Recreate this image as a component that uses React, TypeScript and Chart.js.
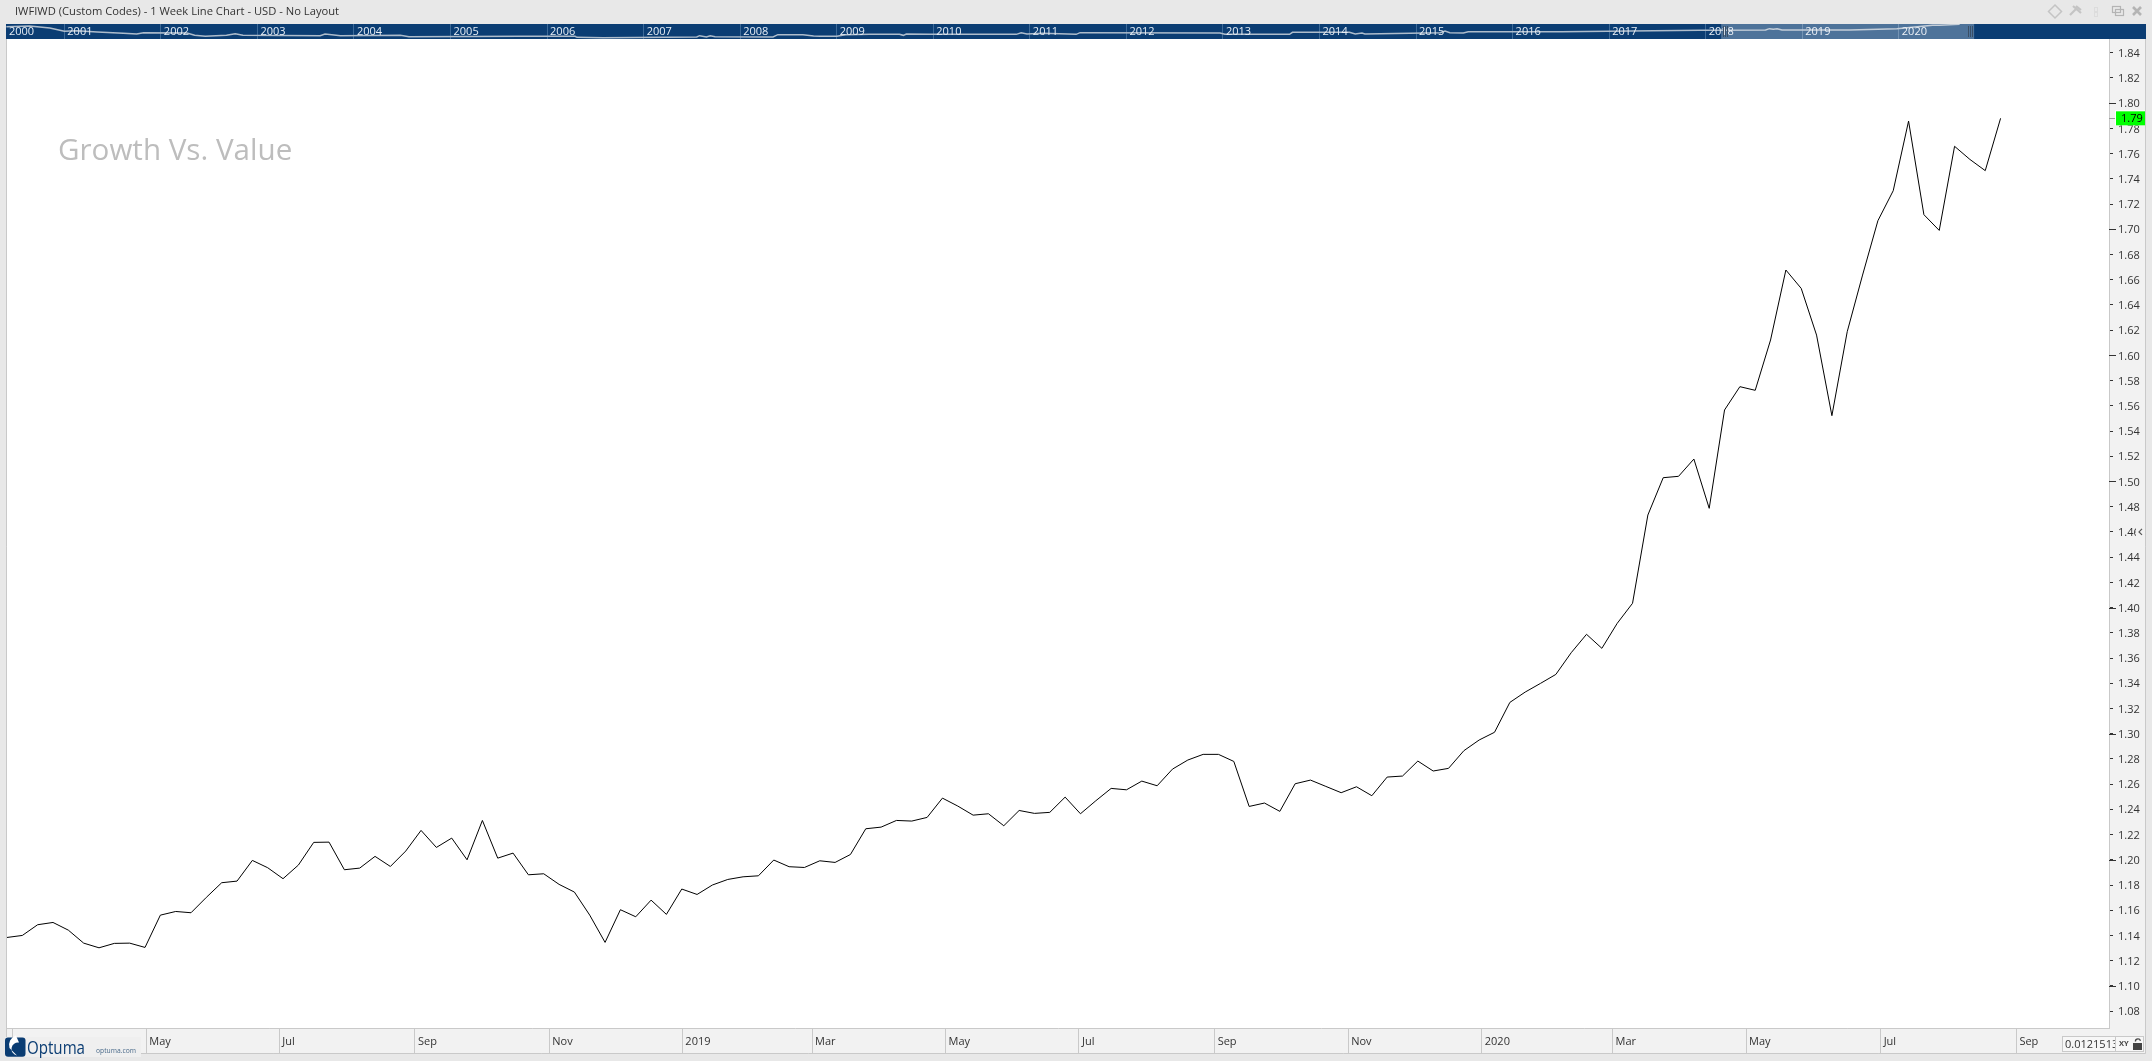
import React, { useEffect, useRef } from "react";
import { Chart, registerables } from "chart.js";

Chart.register(...registerables);

const TITLE = "IWFIWD (Custom Codes) - 1 Week Line Chart - USD - No Layout";
const WATERMARK = "Growth Vs. Value";
const FONT = '"Open Sans", sans-serif';

// Weekly closes, one per week
const weeklyRatio = [
  1.1384, 1.14, 1.1485, 1.1503, 1.1442, 1.1339, 1.1302, 1.1337, 1.1339, 1.1305,
  1.1561, 1.159, 1.158, 1.1702, 1.1818, 1.1831, 1.1995, 1.1937, 1.185, 1.1958,
  1.2138, 1.214, 1.1921, 1.1934, 1.2027, 1.1947, 1.2069, 1.2233, 1.2098, 1.2172,
  1.2, 1.2312, 1.2013, 1.2053, 1.1881, 1.1889, 1.1805, 1.1744, 1.1561, 1.1345,
  1.1604, 1.1548, 1.168, 1.1567, 1.1768, 1.1725, 1.18, 1.1844, 1.1865, 1.1873,
  1.1998, 1.1945, 1.1939, 1.1992, 1.1979, 1.2042, 1.2246, 1.2259, 1.2312, 1.2307,
  1.2336, 1.2489, 1.2426, 1.2354, 1.2365, 1.227, 1.2391, 1.2368, 1.2376, 1.2497,
  1.2365, 1.2468, 1.2566, 1.2555, 1.2624, 1.2587, 1.2719, 1.2791, 1.2836, 1.2836,
  1.278, 1.2423, 1.245, 1.2384, 1.2603, 1.2632, 1.2582, 1.2532, 1.2579, 1.2508,
  1.2656, 1.2664, 1.2783, 1.2704, 1.2725, 1.2865, 1.295, 1.3011, 1.3248, 1.333,
  1.3399, 1.347, 1.3642, 1.3788, 1.3677, 1.3875, 1.4034, 1.4734, 1.503, 1.5041,
  1.5178, 1.4787, 1.5567, 1.5752, 1.5723, 1.6122, 1.6677, 1.6531, 1.6161, 1.5522,
  1.6188, 1.6637, 1.7068, 1.7306, 1.7858, 1.7116, 1.6991, 1.7658, 1.7554, 1.7465,
  1.788,
];

const monthLabels = ["May", "Jul", "Sep", "Nov", "2019", "Mar", "May", "Jul", "Sep", "Nov", "2020", "Mar", "May", "Jul", "Sep"];
const monthWeekPos = [9.08, 17.76, 26.6, 35.36, 44.04, 52.5, 61.2, 69.9, 78.75, 87.46, 96.17, 104.7, 113.4, 122.18, 131.03];
const priceTicks = [
  1.08, 1.1, 1.12, 1.14, 1.16, 1.18, 1.2, 1.22, 1.24, 1.26, 1.28, 1.3, 1.32, 1.34, 1.36, 1.38, 1.4, 1.42, 1.44, 1.46,
  1.48, 1.5, 1.52, 1.54, 1.56, 1.58, 1.6, 1.62, 1.64, 1.66, 1.68, 1.7, 1.72, 1.74, 1.76, 1.78, 1.8, 1.82, 1.84,
];
const majorPriceTicks = [1.1, 1.2, 1.3, 1.4, 1.5, 1.6, 1.7, 1.8];

// Overview strip
const navYearTicks = [2000, 2001, 2002, 2003, 2004, 2005, 2006, 2007, 2008, 2009, 2010, 2011, 2012, 2013, 2014, 2015, 2016, 2017, 2018, 2019, 2020];
const navTime = [
  2000.4, 2000.64, 2000.85, 2001.0, 2001.13, 2001.34, 2001.61, 2001.75, 2001.82, 2002.27, 2002.35, 2002.46, 2002.68, 2002.77, 2002.85,
  2003.65, 2003.7, 2003.77, 2003.86, 2004.48, 2004.57, 2005.72, 2006.29, 2006.31, 2006.58, 2007.55, 2007.58, 2007.65, 2007.69, 2007.74,
  2008.34, 2008.39, 2008.65, 2008.76, 2008.83, 2009.0, 2009.09, 2009.34, 2009.65, 2009.69, 2009.72, 2009.97, 2010.86, 2010.91, 2010.97,
  2011.13, 2011.48, 2011.52, 2012.97, 2013.02, 2013.69, 2013.72, 2014.31, 2014.37, 2014.44, 2014.47, 2015.25, 2015.3, 2015.35, 2015.49,
  2015.54, 2016.51, 2017.94, 2018.62, 2018.66, 2018.7, 2018.74, 2018.79, 2019.49, 2019.98, 2020.35, 2020.42, 2020.63,
];
const navLevel = [
  0.822, 0.867, 0.733, 0.511, 0.556, 0.467, 0.378, 0.333, 0.422, 0.4, 0.244, 0.178, 0.244, 0.356, 0.244,
  0.222, 0.333, 0.289, 0.222, 0.244, 0.156, 0.178, 0.178, 0.111, 0.089, 0.133, 0.222, 0.133, 0.222, 0.156,
  0.133, 0.289, 0.289, 0.2, 0.178, 0.178, 0.289, 0.311, 0.311, 0.244, 0.333, 0.311, 0.311, 0.422, 0.333,
  0.378, 0.311, 0.422, 0.4, 0.311, 0.311, 0.444, 0.444, 0.333, 0.4, 0.333, 0.422, 0.533, 0.422, 0.4,
  0.489, 0.489, 0.578, 0.6, 0.689, 0.644, 0.689, 0.6, 0.6, 0.689, 0.911, 0.911, 0.978,
];
const navWindow = [2018.16, 2020.78];

const BG = "#e8e8e8";
const STRIP = "#f2f2f2";
const EDGE = "#c9c9c9";
const NAVY = "#0b3d73";

const frame = {
  id: "frame",
  beforeDraw(c: any) {
    const g = c.ctx;
    const a = c.chartArea;
    g.save();
    g.fillStyle = BG;
    g.fillRect(0, 0, c.width, c.height);
    g.fillStyle = "#fff";
    g.fillRect(a.left, a.top, a.right - a.left, a.bottom - a.top);
    g.fillStyle = STRIP;
    g.fillRect(a.left, a.bottom, 2145 - a.left, 25);
    g.fillRect(a.right, a.top, 2145 - a.right, a.bottom - a.top);
    g.strokeStyle = EDGE;
    g.lineWidth = 1;
    g.beginPath();
    g.moveTo(6.5, a.top); g.lineTo(6.5, 1053.5); g.lineTo(2145.5, 1053.5); g.lineTo(2145.5, a.top);
    g.moveTo(12.5, 1028); g.lineTo(12.5, 1053);
    g.stroke();
    g.fillStyle = "#333";
    g.font = `11.2px ${FONT}`;
    g.textBaseline = "middle";
    g.fillText(TITLE, 15, 12);
    g.fillStyle = "#bdbdbd";
    g.font = `29.6px ${FONT}`;
    g.textBaseline = "alphabetic";
    g.fillText(WATERMARK, 58, 160);
    g.restore();
  },
  afterDraw(c: any) {
    const g = c.ctx;
    const y = c.scales.y;
    g.save();
    // longer ticks at every 0.10
    g.strokeStyle = "#333";
    g.lineWidth = 1;
    g.beginPath();
    majorPriceTicks.forEach((v) => {
      const p = Math.round(y.getPixelForValue(v)) + 0.5;
      g.moveTo(2109, p); g.lineTo(2116, p);
    });
    g.stroke();
    // last value tag
    const last = weeklyRatio[weeklyRatio.length - 1];
    const py = y.getPixelForValue(last);
    g.strokeStyle = "#999";
    g.beginPath();
    g.moveTo(2109, Math.round(py) + 0.5); g.lineTo(2115, Math.round(py) + 0.5);
    g.stroke();
    g.fillStyle = "#fff";
    g.fillRect(2115, py - 8, 30, 15);
    g.fillStyle = "#00ff00";
    g.fillRect(2116, py - 7, 29, 14);
    g.fillStyle = "#000";
    g.font = `11px ${FONT}`;
    g.textBaseline = "middle";
    g.fillText(last.toFixed(2), 2121, py + 0.5);
    // collapse handle on the price axis
    const hy = y.getPixelForValue(1.46);
    g.fillStyle = STRIP;
    g.fillRect(2136, hy - 10, 9, 20);
    g.strokeStyle = "#555";
    g.lineWidth = 1.2;
    g.beginPath();
    g.moveTo(2142, hy - 3); g.lineTo(2139, hy); g.lineTo(2142, hy + 3);
    g.stroke();
    // logo
    g.fillStyle = "#efefef";
    g.fillRect(5, 1037, 136, 20);
    g.fillStyle = NAVY;
    g.beginPath();
    (g as any).roundRect(5, 1037.5, 20.5, 19.2, 3);
    g.fill();
    g.fillStyle = "#fff";
    g.beginPath();
    g.arc(18, 1049, 6.5, Math.PI * 0.55, Math.PI * 1.55);
    g.arc(19, 1045, 10, Math.PI * 1.4, Math.PI * 0.9, true);
    g.fill();
    g.fillStyle = NAVY;
    g.beginPath();
    g.arc(18.5, 1049.5, 4, 0, Math.PI * 2);
    g.fill();
    g.font = `19px ${FONT}`;
    g.textBaseline = "alphabetic";
    g.fillText("Optuma", 27, 1054, 58);
    g.fillStyle = "#4a6a8a";
    g.font = `7.5px ${FONT}`;
    g.fillText("optuma.com", 96, 1053, 40);
    // scale box
    g.fillStyle = "#f7f7f7";
    g.fillRect(2062, 1036, 82, 16);
    g.strokeStyle = EDGE;
    g.lineWidth = 1;
    g.strokeRect(2062.5, 1036.5, 53, 15);
    g.strokeRect(2115.5, 1036.5, 28, 15);
    g.save();
    g.beginPath();
    g.rect(2063, 1037, 52, 14);
    g.clip();
    g.fillStyle = "#333";
    g.font = `11px ${FONT}`;
    g.textBaseline = "middle";
    g.fillText("0.0121513", 2065, 1045);
    g.restore();
    g.fillStyle = "#444";
    g.font = `bold 7.5px ${FONT}`;
    g.textBaseline = "middle";
    g.fillText("XY", 2119, 1044);
    g.fillRect(2133, 1043, 9, 7);
    g.strokeStyle = "#444";
    g.lineWidth = 1.3;
    g.beginPath();
    g.arc(2138, 1041.5, 2.6, Math.PI, Math.PI * 1.9);
    g.stroke();
    // window buttons
    g.strokeStyle = "#c4c4c4";
    g.lineWidth = 1.5;
    g.beginPath();
    g.moveTo(2055, 5); g.lineTo(2061.5, 11.5); g.lineTo(2055, 18); g.lineTo(2048.5, 11.5); g.closePath();
    g.stroke();
    g.lineWidth = 2.2;
    g.beginPath();
    g.moveTo(2070, 15); g.lineTo(2076, 9);
    g.moveTo(2073, 6); g.lineTo(2081, 13);
    g.moveTo(2076, 6); g.lineTo(2081, 10);
    g.stroke();
    g.lineWidth = 1;
    g.strokeStyle = "#dcdcdc";
    g.strokeRect(2094.5, 7.5, 3, 4);
    g.strokeRect(2094.5, 12.5, 3, 4);
    g.strokeStyle = "#b4b4b4";
    g.lineWidth = 1.2;
    g.strokeRect(2112.5, 6.5, 8, 6);
    g.strokeRect(2115.5, 9.5, 8, 6);
    g.lineWidth = 2.6;
    g.beginPath();
    g.moveTo(2133, 7); g.lineTo(2141, 15);
    g.moveTo(2141, 7); g.lineTo(2133, 15);
    g.stroke();
    g.restore();
  },
};

const navDecor = {
  id: "navDecor",
  afterDatasetsDraw(c: any) {
    const g = c.ctx;
    const x = c.scales.x;
    const h = c.height;
    g.save();
    g.fillStyle = "#e6edf5";
    g.font = `11px ${FONT}`;
    g.textBaseline = "middle";
    navYearTicks.forEach((yr) => {
      const p = Math.max(x.getPixelForValue(yr), 0);
      g.fillText(String(yr), p + 3, h / 2 + 0.5);
    });
    const x0 = x.getPixelForValue(navWindow[0]);
    const x1 = x.getPixelForValue(navWindow[1]);
    g.fillStyle = "rgba(255,255,255,0.28)";
    g.fillRect(x0, 0, x1 - x0, h);
    g.strokeStyle = "#3a4f66";
    g.lineWidth = 1;
    g.beginPath();
    [x0 + 2, x0 + 4, x0 + 6, x1 - 6, x1 - 4, x1 - 2].forEach((p) => {
      const q = Math.round(p) + 0.5;
      g.moveTo(q, 2); g.lineTo(q, h - 2);
    });
    g.stroke();
    g.restore();
  },
};

export default function App() {
  const mainRef = useRef<HTMLCanvasElement>(null);
  const navRef = useRef<HTMLCanvasElement>(null);

  useEffect(() => {
    document.body.style.margin = "0";
    document.body.style.overflow = "hidden";
    const main = new Chart(mainRef.current as any, {
      type: "line",
      data: {
        datasets: [
          {
            data: weeklyRatio.map((v, i) => ({ x: i, y: v })),
            borderColor: "#000",
            borderWidth: 1,
            pointRadius: 0,
            tension: 0,
            clip: false as any,
          },
        ],
      },
      options: {
        responsive: false,
        animation: false,
        layout: { padding: { left: 7, top: 39, right: 7, bottom: 8 } },
        plugins: { legend: { display: false }, tooltip: { enabled: false } },
        events: [],
        scales: {
          x: {
            type: "linear",
            min: 0,
            max: 137.07,
            afterFit(s: any) { s.height = 25; },
            afterBuildTicks(s: any) { s.ticks = monthWeekPos.map((value) => ({ value })); },
            grid: { drawOnChartArea: false, color: EDGE, tickLength: 25 },
            border: { color: EDGE },
            ticks: {
              autoSkip: false,
              maxRotation: 0,
              align: "start",
              labelOffset: 3,
              padding: -18,
              color: "#333",
              font: { family: FONT, size: 11 },
              callback: (_v: any, i: number) => monthLabels[i],
            },
          },
          y: {
            type: "linear",
            position: "right",
            min: 1.0666,
            max: 1.8509,
            afterFit(s: any) { s.width = 36; },
            afterBuildTicks(s: any) { s.ticks = priceTicks.map((value) => ({ value })); },
            grid: { drawOnChartArea: false, color: "#333", tickLength: 4 },
            border: { color: EDGE },
            ticks: {
              autoSkip: false,
              padding: 5,
              labelOffset: 1,
              color: "#333",
              font: { family: FONT, size: 11 },
              callback: (v: any) => Number(v).toFixed(2),
            },
          },
        },
      } as any,
      plugins: [frame],
    });

    const nav = new Chart(navRef.current as any, {
      type: "line",
      data: {
        datasets: [
          {
            data: navTime.map((t, i) => ({ x: t, y: navLevel[i] })),
            borderColor: "#aebccb",
            borderWidth: 1.5,
            pointRadius: 0,
            tension: 0,
          },
        ],
      },
      options: {
        responsive: false,
        animation: false,
        events: [],
        layout: { padding: 0 },
        plugins: { legend: { display: false }, tooltip: { enabled: false } },
        scales: {
          x: {
            type: "linear",
            min: 2000.396,
            max: 2022.56,
            afterFit(s: any) { s.height = 0; },
            afterBuildTicks(s: any) { s.ticks = navYearTicks.slice(1).map((value) => ({ value })); },
            grid: { color: "#3d6a98", drawTicks: false, lineWidth: 1 },
            border: { display: false },
            ticks: { display: false },
          },
          y: { type: "linear", display: false, min: 0, max: 1 },
        },
      } as any,
      plugins: [
        {
          id: "navBg",
          beforeDraw(c: any) {
            c.ctx.fillStyle = NAVY;
            c.ctx.fillRect(0, 0, c.width, c.height);
          },
        },
        navDecor,
      ],
    });

    return () => {
      main.destroy();
      nav.destroy();
    };
  }, []);

  return (
    <div style={{ position: "fixed", left: 0, top: 0, width: 2152, height: 1061 }}>
      <canvas ref={mainRef} width={2152} height={1061} style={{ display: "block", position: "absolute", left: 0, top: 0 }} />
      <canvas ref={navRef} width={2140} height={15} style={{ display: "block", position: "absolute", left: 6, top: 24 }} />
    </div>
  );
}
